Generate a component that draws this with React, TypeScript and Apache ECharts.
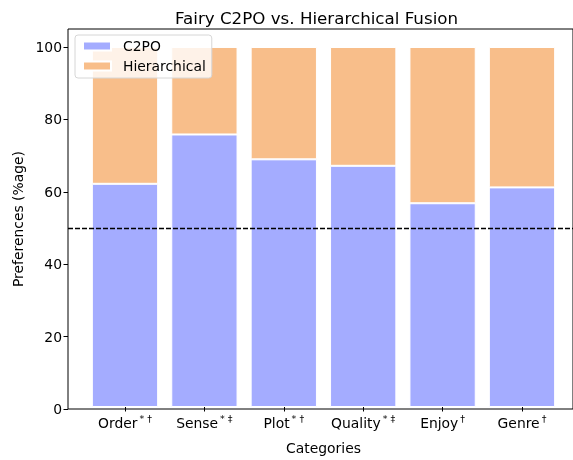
import React, { useEffect, useRef } from "react";
import * as echarts from "echarts";

const categories = ["Order", "Sense", "Plot", "Quality", "Enjoy", "Genre"];
const marks = ["* †", "* ‡", "* †", "* ‡", "†", "†"];
const c2po = [62, 75.7, 68.8, 67, 56.6, 61];
const hierarchical = c2po.map((v) => +(100 - v).toFixed(1));
const yTicks = [0, 20, 40, 60, 80, 100];

const FONT = "DejaVu Sans";
const FS = 13.9;

export default function App() {
  const ref = useRef<HTMLDivElement>(null);
  useEffect(() => {
    document.body.style.margin = "0";
    const chart = echarts.init(ref.current!, null, { renderer: "svg" });
    const labelMap: Record<string, string> = {};
    categories.forEach((c, i) => (labelMap[c] = marks[i]));
    chart.setOption({
      animation: false,
      textStyle: { fontFamily: FONT, color: "#000" },
      title: {
        text: "Fairy C2PO vs. Hierarchical Fusion",
        left: 170,
        top: 4,
        textStyle: { fontFamily: FONT, fontSize: 16.7, fontWeight: "normal", color: "#000" },
      },
      legend: {
        orient: "vertical",
        left: 75,
        top: 35,
        itemWidth: 28,
        itemHeight: 9,
        itemGap: 6,
        padding: [4, 6, 5, 7],
        backgroundColor: "rgba(255,255,255,0.8)",
        borderColor: "#d6d6d6",
        borderWidth: 1,
        borderRadius: 3,
        icon: "rect",
        textStyle: { fontFamily: FONT, fontSize: FS, color: "#000", padding: [0, 0, 0, 7] },
        data: ["C2PO", "Hierarchical"],
        z: 10,
      },
      grid: [
        { left: 68, right: 0, top: 29, bottom: 51, show: true, borderColor: "#000", borderWidth: 1, backgroundColor: "transparent" },
        { left: 85.3, width: 476.4, top: 29, bottom: 51 },
      ],
      xAxis: [
        { type: "value", gridIndex: 0, min: 0, max: 1, show: false },
        {
          type: "category",
          gridIndex: 1,
          data: categories,
          axisLine: { show: true, lineStyle: { color: "rgba(0,0,0,0)", width: 1 } },
          axisTick: { show: true, alignWithLabel: true, interval: 0, length: 4.5, lineStyle: { color: "#000", width: 1 } },
          axisLabel: {
            interval: 0,
            margin: 6,
            formatter: (v: string) => `{b|${v}}{s|${labelMap[v]}}`,
            rich: {
              b: { fontFamily: FONT, fontSize: FS, color: "#000", lineHeight: 17, verticalAlign: "bottom" },
              s: { fontFamily: FONT, fontSize: 9.5, color: "#000", lineHeight: 17, verticalAlign: "top", padding: [0, 0, 0, 2] },
            },
          },
          name: "Categories",
          nameLocation: "middle",
          nameGap: 34,
          nameTextStyle: { fontFamily: FONT, fontSize: FS, color: "#000" },
          z: 5,
        },
      ],
      yAxis: [
        {
          type: "value",
          gridIndex: 0,
          min: 0,
          max: 105,
          interval: 20,
          axisLine: { show: false },
          splitLine: { show: false },
          axisTick: { show: true, length: 4.5, lineStyle: { color: "#000" }, customValues: yTicks },
          axisLabel: {
            fontFamily: FONT,
            fontSize: FS,
            color: "#000",
            margin: 6,
            customValues: yTicks,
          },
          name: "Preferences (%age)",
          nameLocation: "middle",
          nameGap: 43,
          nameTextStyle: { fontFamily: FONT, fontSize: FS, color: "#000" },
        },
        { type: "value", gridIndex: 1, min: 0, max: 105, show: false },
      ],
      series: [
        {
          name: "C2PO",
          type: "bar",
          xAxisIndex: 1,
          yAxisIndex: 1,
          stack: "total",
          data: c2po,
          barWidth: "83.5%",
          itemStyle: { color: "#a4acff", borderColor: "#ffffff", borderWidth: 1 },
        },
        {
          name: "Hierarchical",
          type: "bar",
          xAxisIndex: 1,
          yAxisIndex: 1,
          stack: "total",
          data: hierarchical,
          barWidth: "83.5%",
          itemStyle: { color: "#f8be8a", borderColor: "#ffffff", borderWidth: 1 },
        },
        {
          type: "line",
          xAxisIndex: 0,
          yAxisIndex: 0,
          data: [],
          silent: true,
          markLine: {
            symbol: ["none", "none"],
            silent: true,
            label: { show: false },
            lineStyle: { color: "#000", type: [5, 2], width: 1.3 },
            data: [{ yAxis: 50 }],
          },
        },
      ],
    });
    return () => chart.dispose();
  }, []);
  return <div ref={ref} style={{ position: "fixed", left: 0, top: 0, width: 573, height: 460 }} />;
}
